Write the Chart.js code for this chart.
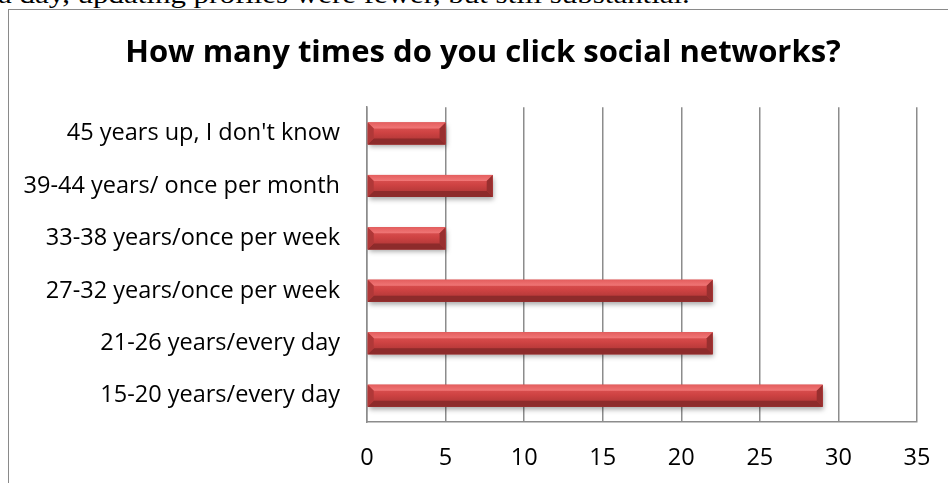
<!DOCTYPE html>
<html>
<head>
<meta charset="utf-8">
<script src="https://cdn.jsdelivr.net/npm/chart.js@4"></script>
<style>
  html, body { margin: 0; padding: 0; background: #fff; overflow: hidden; }
  body { width: 948px; height: 483px; position: relative; }
  #lead {
    position: absolute; left: -2px; top: -20px; white-space: nowrap;
    font-family: "Liberation Serif", "DejaVu Serif", serif; font-size: 26px; color: #000;
    transform: scaleX(1.19); transform-origin: 0 0;
  }
  #frame {
    position: absolute; left: 8px; top: 9px; width: 960px; height: 500px;
    border-left: 1.5px solid #8a8a8a; border-top: 1.5px solid #8a8a8a; box-sizing: border-box;
  }
  #wrap { position: absolute; left: 0; top: 0; width: 948px; height: 483px; }
</style>
</head>
<body>
<div id="lead">a day, updating profiles were fewer, but still substantial.</div>
<div id="frame"></div>
<div id="wrap"><canvas id="chart" width="948" height="483"></canvas></div>
<script>
// Age group / visit frequency, listed top to bottom
const categories = [
  "45 years up, I don't know",
  "39-44 years/ once per month",
  "33-38 years/once per week",
  "27-32 years/once per week",
  "21-26 years/every day",
  "15-20 years/every day"
];
const responses = [5, 8, 5, 22, 22, 29];
const xTicks = [0, 5, 10, 15, 20, 25, 30, 35];
const chartTitle = "How many times do you click social networks?";

const labelFont = "Open Sans";

// Bevelled, shaded look for each bar, based on the bar element geometry
const bevelBars = {
  id: 'bevelBars',
  beforeDatasetsDraw(chart) {
    const ctx = chart.ctx;
    ctx.save();
    ctx.shadowColor = 'rgba(0,0,0,0.35)';
    ctx.shadowBlur = 5;
    ctx.shadowOffsetX = 1;
    ctx.shadowOffsetY = 3;
  },
  afterDatasetsDraw(chart) {
    const ctx = chart.ctx;
    ctx.restore();
    const meta = chart.getDatasetMeta(0);
    meta.data.forEach(bar => {
      const p = bar.getProps(['x', 'y', 'base', 'height'], true);
      const x0 = Math.min(p.base, p.x), x1 = Math.max(p.base, p.x);
      const y0 = p.y - p.height / 2, y1 = p.y + p.height / 2;
      const b = Math.min(6, (x1 - x0) / 2);
      ctx.save();
      // face
      const g = ctx.createLinearGradient(0, y0, 0, y1);
      g.addColorStop(0, '#e25a5a');
      g.addColorStop(0.45, '#cf4343');
      g.addColorStop(1, '#a33131');
      ctx.fillStyle = g;
      ctx.fillRect(x0, y0, x1 - x0, y1 - y0);
      // top bevel
      const gt = ctx.createLinearGradient(0, y0, 0, y0 + b);
      gt.addColorStop(0, '#e45e5e');
      gt.addColorStop(1, '#f07676');
      ctx.fillStyle = gt;
      ctx.beginPath();
      ctx.moveTo(x0, y0); ctx.lineTo(x1, y0); ctx.lineTo(x1 - b, y0 + b); ctx.lineTo(x0 + b, y0 + b);
      ctx.closePath(); ctx.fill();
      // bottom bevel
      ctx.fillStyle = '#8d2b2b';
      ctx.beginPath();
      ctx.moveTo(x0, y1); ctx.lineTo(x1, y1); ctx.lineTo(x1 - b, y1 - b); ctx.lineTo(x0 + b, y1 - b);
      ctx.closePath(); ctx.fill();
      // left bevel
      ctx.fillStyle = '#b03838';
      ctx.beginPath();
      ctx.moveTo(x0, y0); ctx.lineTo(x0 + b, y0 + b); ctx.lineTo(x0 + b, y1 - b); ctx.lineTo(x0, y1);
      ctx.closePath(); ctx.fill();
      // right bevel
      ctx.fillStyle = '#982f2f';
      ctx.beginPath();
      ctx.moveTo(x1, y0); ctx.lineTo(x1 - b, y0 + b); ctx.lineTo(x1 - b, y1 - b); ctx.lineTo(x1, y1);
      ctx.closePath(); ctx.fill();
      ctx.restore();
    });
  }
};

new Chart(document.getElementById('chart'), {
  type: 'bar',
  data: {
    labels: categories,
    datasets: [{
      data: responses,
      backgroundColor: '#c94444',
      borderWidth: 0,
      barPercentage: 0.42,
      categoryPercentage: 1
    }]
  },
  plugins: [bevelBars],
  options: {
    indexAxis: 'y',
    responsive: false,
    animation: false,
    events: [],
    layout: { padding: { left: 18, right: 0, top: 0, bottom: 0 } },
    plugins: {
      legend: { display: false },
      tooltip: { enabled: false },
      title: {
        display: true,
        text: chartTitle,
        color: '#000',
        font: { family: labelFont, size: 31, weight: 'bold', lineHeight: 1.2 },
        padding: { top: 35, bottom: 35 }
      }
    },
    scales: {
      x: {
        min: 0, max: 35,
        afterBuildTicks(s) { s.ticks = xTicks.map(v => ({ value: v })); },
        afterFit(s) { s.height = 61; s.paddingLeft = 0; s.paddingRight = 31; },
        ticks: { color: '#000', padding: 22, font: { family: labelFont, size: 23.5 } },
        grid: { color: '#8c8c8c', lineWidth: 1.5, drawTicks: false },
        border: { color: '#8c8c8c', width: 1.5 }
      },
      y: {
        afterFit(s) { s.width = 349; },
        ticks: { color: '#000', padding: 27, font: { family: labelFont, size: 23.5 } },
        grid: { display: false, drawTicks: false },
        border: { color: '#8c8c8c', width: 1.5 }
      }
    }
  }
});
</script>
</body>
</html>
